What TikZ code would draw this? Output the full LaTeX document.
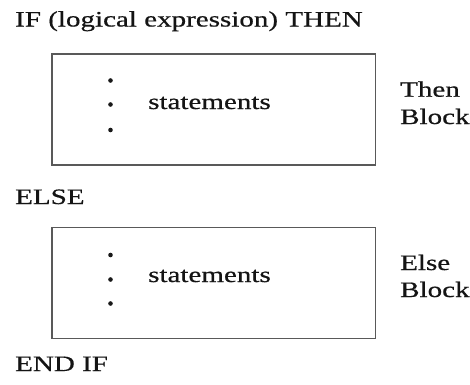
\documentclass[tikz,border=0pt]{standalone}
\usepackage{fontspec}
\setmainfont[FakeStretch=1.32,FakeBold=0.6]{Liberation Serif}
\begin{document}
\begin{tikzpicture}[x=1pt,y=-1pt,
  lbl/.style={anchor=base west,inner sep=0pt,text=black!92,font=\fontsize{22}{22}\selectfont},
  blockbox/.style={draw=black!65,line width=1.3pt,inner sep=0pt},
  bullet/.style={circle,fill=black!90,inner sep=0pt,minimum size=4.6pt}]
\useasboundingbox (0,0) rectangle (470,384);
% headers
\node[lbl] (if) at (15,26.5) {IF (logical expression) THEN};
\node[lbl] (else) at (15,204) {ELSE};
\node[lbl] (endif) at (15,371) {END IF};
% then block
\draw[blockbox] (52,54) rectangle (375.5,165);
\node[bullet] (t1) at (110.5,80.5) {};
\node[bullet] (t2) at (110.5,104.5) {};
\node[bullet] (t3) at (110.5,130) {};
\node[lbl] (tstat) at (148,109) {statements};
\node[lbl] (then1) at (400,96.7) {Then};
\node[lbl] (then2) at (400,124) {Block};
% else block
\draw[blockbox] (52,227.5) rectangle (375.5,338.5);
\node[bullet] (e1) at (110.5,255) {};
\node[bullet] (e2) at (110.5,279.5) {};
\node[bullet] (e3) at (110.5,303.5) {};
\node[lbl] (estat) at (148,282) {statements};
\node[lbl] (else1) at (400,270) {Else};
\node[lbl] (else2) at (400,297) {Block};
\end{tikzpicture}
\end{document}
